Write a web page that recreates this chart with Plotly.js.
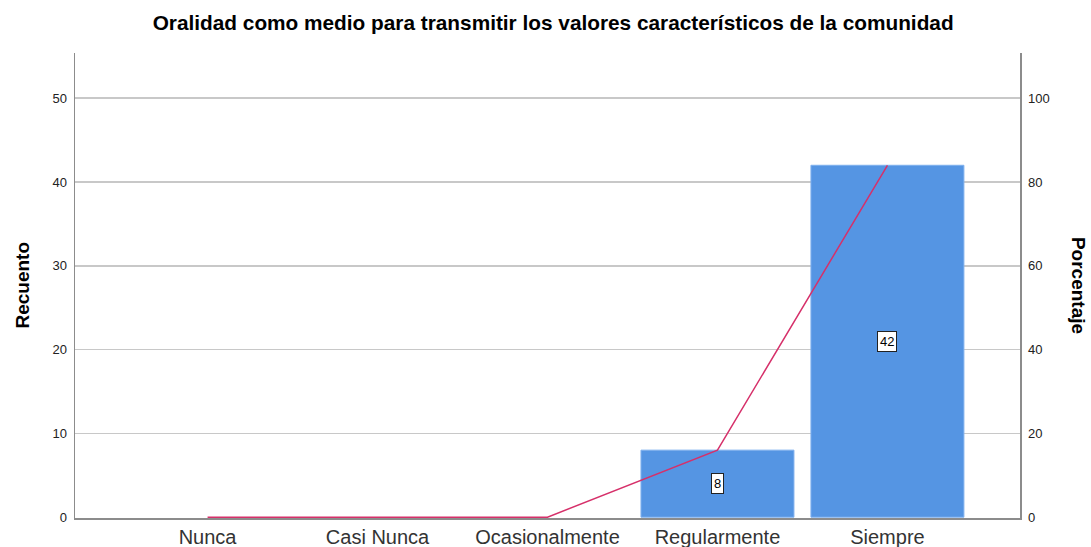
<!DOCTYPE html>
<html>
<head>
<meta charset="utf-8">
<script src="https://cdn.plot.ly/plotly-3.0.1.min.js"></script>
<style>html,body{margin:0;padding:0;background:#fff;}#chart{width:1091px;height:547px;}</style>
</head>
<body>
<div id="chart"></div>
<script>
const categories = ["Nunca", "Casi Nunca", "Ocasionalmente", "Regularmente", "Siempre"];
const counts = [0, 0, 0, 8, 42];
const percents = [0, 0, 0, 16, 84];
const leftTicks = [0, 10, 20, 30, 40, 50];
const rightTicks = [0, 20, 40, 60, 80, 100];

const barTrace = {
  type: "bar",
  x: categories,
  y: counts,
  marker: {color: "#5595e3", line: {color: "#7fb0ee", width: counts.map(v => v > 0 ? 1 : 0)}},
  width: 0.9,
  hoverinfo: "skip",
  showlegend: false
};
const lineTrace = {
  type: "scatter",
  mode: "lines",
  x: categories,
  y: percents,
  yaxis: "y2",
  line: {color: "#d6306a", width: 1.5},
  hoverinfo: "skip",
  showlegend: false,
  cliponaxis: false
};

const annotations = [];
categories.forEach((c, i) => {
  if (counts[i] > 0) {
    annotations.push({
      x: c, y: counts[i] / 2, xref: "x", yref: "y",
      text: String(counts[i]), showarrow: false,
      bgcolor: "#ffffff", bordercolor: "#222", borderwidth: 1, borderpad: 2,
      font: {family: "Liberation Sans, Arial, sans-serif", size: 13, color: "#000"}
    });
  }
});
annotations.push({
  text: "Recuento", xref: "paper", yref: "paper", x: -0.056, y: 0.5,
  textangle: -90, showarrow: false, xanchor: "center", yanchor: "middle",
  font: {family: "Liberation Sans, Arial, sans-serif", size: 19, color: "#000", weight: "bold"}
});
annotations.push({
  text: "Porcentaje", xref: "paper", yref: "paper", x: 1.062, y: 0.5,
  textangle: 90, showarrow: false, xanchor: "center", yanchor: "middle",
  font: {family: "Liberation Sans, Arial, sans-serif", size: 19, color: "#000", weight: "bold"}
});

const layout = {
  width: 1091, height: 547,
  margin: {l: 75, r: 71, t: 53, b: 29},
  paper_bgcolor: "#fff", plot_bgcolor: "#fff",
  title: {
    text: "<b>Oralidad como medio para transmitir los valores característicos de la comunidad</b>",
    x: 0.506, xref: "paper", y: 0.958, yref: "container", yanchor: "middle",
    font: {family: "Liberation Sans, Arial, sans-serif", size: 20.8, color: "#000"}
  },
  xaxis: {
    type: "category",
    range: [-0.78, 4.78],
    showgrid: false, zeroline: false,
    showline: true, linecolor: "#8c8c8c", linewidth: 1.5,
    layer: "below traces",
    ticks: "", ticklabelstandoff: 0,
    tickfont: {family: "Liberation Sans, Arial, sans-serif", size: 20, color: "#333"},
    fixedrange: true
  },
  yaxis: {
    range: [-0.1, 55.4],
    tickvals: leftTicks,
    showgrid: true, gridcolor: "#c8c8c8", gridwidth: 1.5,
    zeroline: false,
    showline: true, linecolor: "#8c8c8c", linewidth: 1.5,
    ticks: "", ticklabelstandoff: 4,
    tickfont: {family: "Liberation Sans, Arial, sans-serif", size: 13, color: "#222"},
    fixedrange: true
  },
  yaxis2: {
    overlaying: "y", side: "right",
    range: [-0.2, 110.8],
    tickvals: rightTicks,
    showgrid: false, zeroline: false,
    showline: true, linecolor: "#8c8c8c", linewidth: 1.5,
    ticks: "", ticklabelstandoff: 4,
    tickfont: {family: "Liberation Sans, Arial, sans-serif", size: 13, color: "#222"},
    fixedrange: true
  },
  annotations: annotations,
  bargap: 0.1
};

Plotly.newPlot("chart", [barTrace, lineTrace], layout, {displayModeBar: false, staticPlot: true});
</script>
</body>
</html>
